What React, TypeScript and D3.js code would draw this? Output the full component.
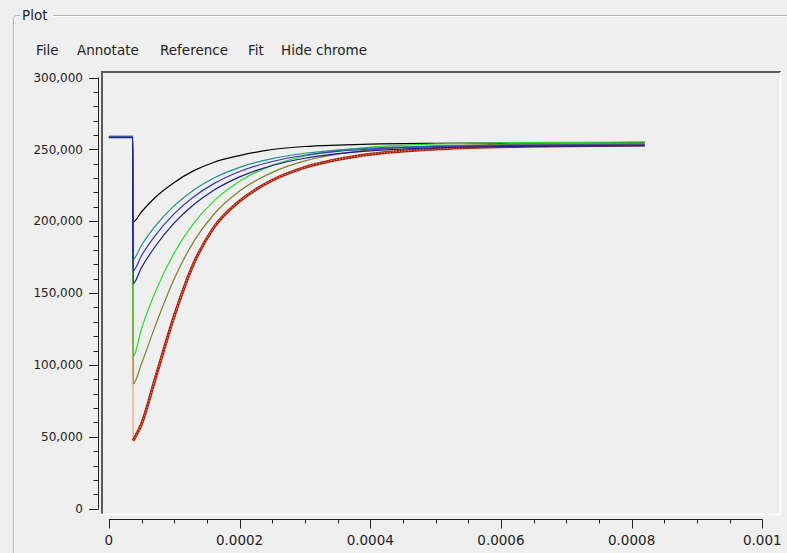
import React from 'react';
import * as d3 from 'd3';

// time samples (s)
const times = [0, 0.0000365, 0.000037, 0.00005, 0.00007, 0.0001, 0.00013, 0.00016, 0.0002, 0.00025, 0.0003, 0.00035, 0.0004, 0.0005, 0.0006, 0.0007, 0.00082];

const blackValues = [259000, 259000, 199500, 206600, 216200, 227000, 235200, 240900, 245700, 249900, 252000, 253000, 253700, 254200, 254400, 254600, 254800];
const tealValues = [258800, 258800, 173500, 183500, 196100, 210900, 221800, 229900, 237500, 243600, 247300, 249500, 250900, 252200, 252800, 253000, 253000];
const blueValues = [258500, 258500, 165600, 176200, 189500, 205300, 217100, 226000, 234600, 241550, 245900, 248600, 250260, 251940, 252700, 253000, 253000];
const navyValues = [258200, 258200, 156800, 167850, 181900, 198800, 211600, 221400, 230850, 238760, 243800, 247000, 249000, 251100, 252000, 252300, 252500];
const greenValues = [258600, 258600, 105800, 125400, 149760, 178000, 198660, 213780, 227830, 238860, 245400, 249300, 251600, 253800, 254600, 254850, 255000];
const oliveValues = [258600, 258600, 86800, 101000, 126000, 160000, 186000, 204500, 221000, 234000, 242000, 246700, 249600, 252400, 253400, 253800, 254000];
const redValues = [258600, 258600, 47300, 59000, 89000, 134000, 170800, 195300, 214000, 228500, 237500, 243000, 246600, 250300, 251900, 252500, 253000];

const xTickValues = [0, 0.0002, 0.0004, 0.0006, 0.0008, 0.001];
const xTickLabels = ['0', '0.0002', '0.0004', '0.0006', '0.0008', '0.001'];
const yTickValues = [0, 50000, 100000, 150000, 200000, 250000, 300000];
const menuItems = ['File', 'Annotate', 'Reference', 'Fit', 'Hide chrome'];

const W = 787;
const H = 553;
const FONT = 'DejaVu Sans';

export default function App() {
  const x = d3.scaleLinear().domain([0, 0.001]).range([108.9, 762.3]);
  const y = d3.scaleLinear().domain([0, 300000]).range([508.7, 77.5]);

  const line = d3.line<[number, number]>()
    .x(d => x(d[0]))
    .y(d => y(d[1]))
    .curve(d3.curveMonotoneX);
  const straight = d3.line<[number, number]>()
    .x(d => x(d[0]))
    .y(d => y(d[1]));

  const pts = (vals: number[]) => times.map((t, i) => [t, vals[i]] as [number, number]);

  const series = [
    { key: 'black', values: blackValues, color: '#000000' },
    { key: 'olive', values: oliveValues, color: '#7f7f2c' },
    { key: 'green', values: greenValues, color: '#2fd82f' },
    { key: 'teal', values: tealValues, color: '#1f8f86' },
    { key: 'blue', values: blueValues, color: '#3434c0' },
    { key: 'navy', values: navyValues, color: '#1c1c8a' },
  ];

  const redPts = pts(redValues);
  const redDrop = redPts.slice(0, 3);
  const redRise = redPts.slice(2);

  const xMinor = x.ticks(20);
  const yMinor = y.ticks(30);
  const menuX = [36, 77, 160, 248, 281];

  return (
    <div style={{ position: 'absolute', left: 0, top: 0 }}>
      <svg width={W} height={H} style={{ display: 'block', fontFamily: FONT }}>
        <rect x={0} y={0} width={W} height={H} fill="#efefef" />
        {/* group box */}
        <rect x={14.5} y={16.5} width={W} height={H} rx={3} fill="none" stroke="#ffffff" />
        <rect x={13.5} y={15.5} width={W} height={H} rx={3} fill="none" stroke="#b4b4b4" />
        <rect x={20} y={6} width={33} height={18} fill="#efefef" />
        <text x={22} y={19.5} fontSize={13.5} fill="#222">Plot</text>
        {/* menu */}
        {menuItems.map((m, i) => (
          <text key={m} x={menuX[i]} y={54.5} fontSize={13.5} fill="#222">{m}</text>
        ))}
        {/* plot frame (sunken) */}
        <line x1={102} y1={72} x2={781} y2={72} stroke="#5c5c5c" strokeWidth={2} />
        <line x1={102} y1={71} x2={102} y2={514} stroke="#5c5c5c" strokeWidth={2} />
        <line x1={780.5} y1={72} x2={780.5} y2={514.5} stroke="#ffffff" strokeWidth={1.5} />
        <line x1={101} y1={514.5} x2={781} y2={514.5} stroke="#ffffff" strokeWidth={1.5} />

        {/* y axis */}
        <line x1={98.5} y1={y(300000)} x2={98.5} y2={y(0)} stroke="#222" strokeWidth={1} />
        {yMinor.map(v => (
          <line key={'ym' + v} x1={93.5} x2={98.5} y1={Math.round(y(v)) + 0.5} y2={Math.round(y(v)) + 0.5} stroke="#222" />
        ))}
        {yTickValues.map(v => (
          <g key={'yt' + v}>
            <line x1={89} x2={98.5} y1={Math.round(y(v)) + 0.5} y2={Math.round(y(v)) + 0.5} stroke="#222" />
            <text x={83} y={y(v)} dy="0.35em" textAnchor="end" fontSize={12} fill="#222">{d3.format(',')(v)}</text>
          </g>
        ))}

        {/* x axis */}
        <line x1={x(0)} y1={519.5} x2={x(0.001)} y2={519.5} stroke="#222" />
        {xMinor.map(v => (
          <line key={'xm' + v} x1={Math.round(x(v)) + 0.5} x2={Math.round(x(v)) + 0.5} y1={519.5} y2={523.5} stroke="#222" />
        ))}
        {xTickValues.map((v, i) => (
          <g key={'xt' + v}>
            <line x1={Math.round(x(v)) + 0.5} x2={Math.round(x(v)) + 0.5} y1={519.5} y2={528.5} stroke="#222" />
            <text x={x(v)} y={545} textAnchor="middle" fontSize={13.5} fill="#222">{xTickLabels[i]}</text>
          </g>
        ))}

        {/* series */}
        <path d={straight(redDrop) || ''} fill="none" stroke="#f0a070" strokeWidth={1.2} />
        <path d={line(redRise) || ''} fill="none" stroke="#a3220e" strokeWidth={3} />
        <path d={line(redRise) || ''} fill="none" stroke="#e07858" strokeWidth={1.2} strokeDasharray="1.5 1.5" />
        {series.map(s => (
          <path key={s.key} d={line(pts(s.values)) || ''} fill="none" stroke={s.color} strokeWidth={1.2} />
        ))}
      </svg>
    </div>
  );
}
